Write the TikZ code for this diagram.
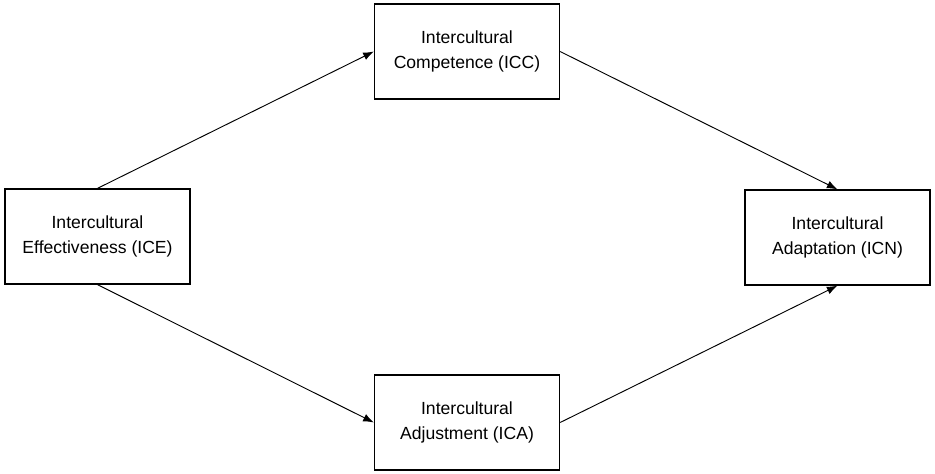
\documentclass[tikz,border=0pt]{standalone}
\usepackage{fontspec}
\setmainfont{Liberation Sans}
\usetikzlibrary{arrows.meta}

\tikzset{
  bloc/.style={draw,line width=1.1pt,minimum width=5.55cm,minimum height=2.85cm,
    align=center,font=\fontsize{15}{21}\selectfont,inner sep=0pt},
  fleche/.style={-{Latex[length=3.2mm,width=2.4mm]},line width=0.8pt}
}

\begin{document}
\begin{tikzpicture}

% Cadre
\useasboundingbox (0,0) rectangle (28.05,-14.19);

% Blocs
\node[bloc] (ice) at (2.925,-7.095) {Intercultural\\Effectiveness (ICE)};
\node[bloc] (icc) at (14.01,-1.545) {Intercultural\\Competence (ICC)};
\node[bloc] (ica) at (14.01,-12.675) {Intercultural\\Adjustment (ICA)};
\node[bloc] (icn) at (25.125,-7.125) {Intercultural\\Adaptation (ICN)};

% Fleches
\draw[fleche] (ice.north) -- (icc.west);
\draw[fleche] (ice.south) -- (ica.west);
\draw[fleche] (icc.east) -- (icn.north);
\draw[fleche] (ica.east) -- (icn.south);

\end{tikzpicture}
\end{document}
